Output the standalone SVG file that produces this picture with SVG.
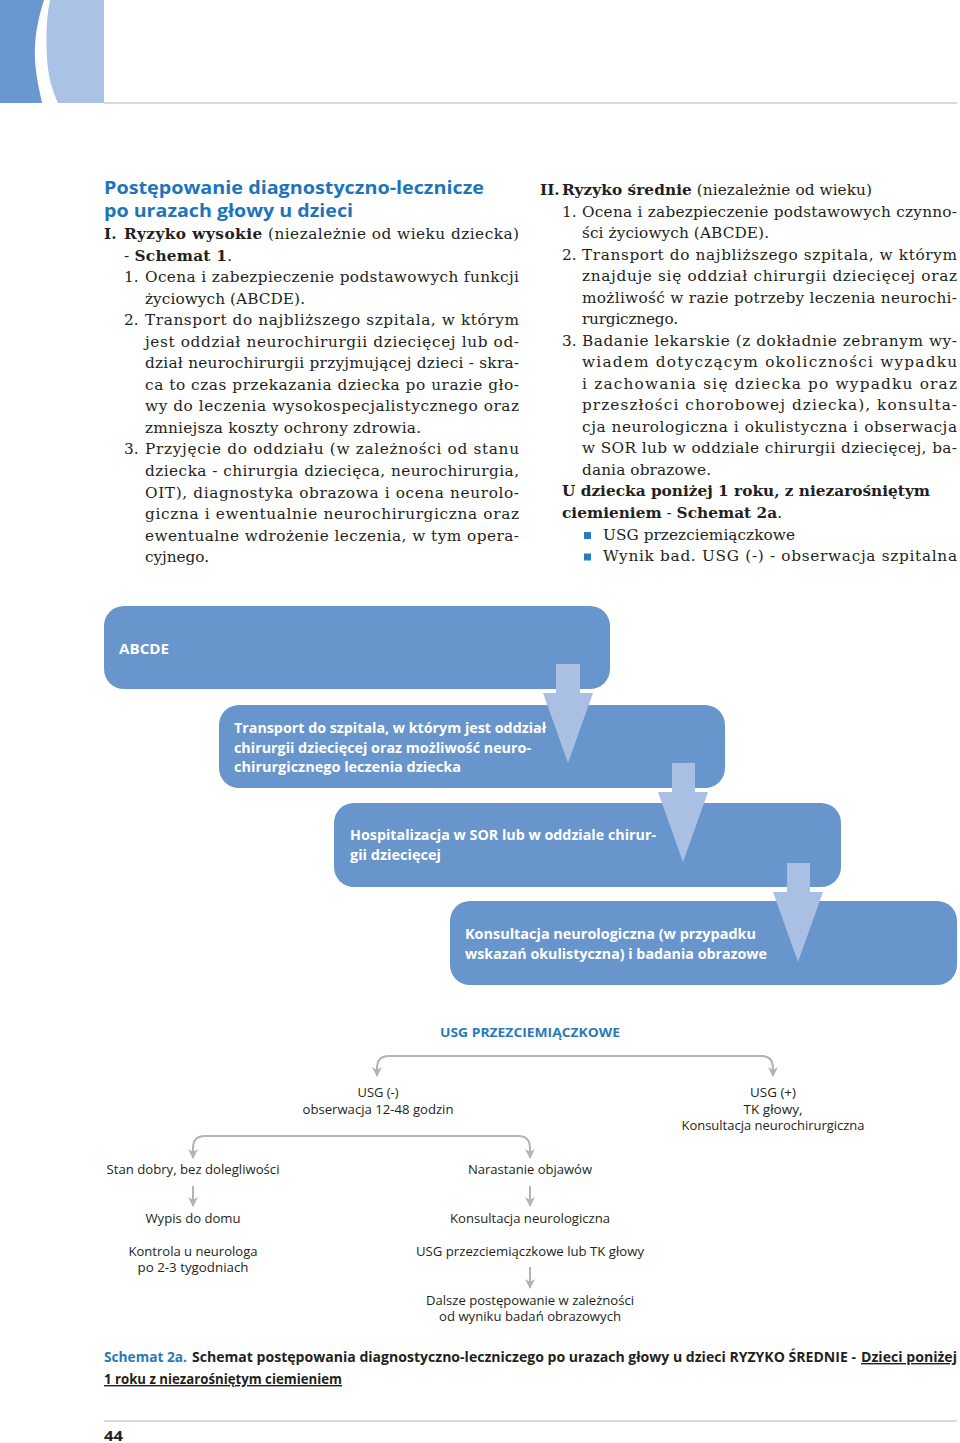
<svg xmlns="http://www.w3.org/2000/svg" width="960" height="1443" viewBox="0 0 960 1443">
<defs>
<style>
.b{font-family:"DejaVu Serif","Liberation Serif",serif;font-size:15.3px;fill:#231f20}
.bb{font-weight:bold}
.t{font-family:"Open Sans","Liberation Sans",sans-serif;font-weight:bold;font-size:18.5px;fill:#1c75bc}
.box{fill:#6895cc}
.bt{font-family:"Open Sans","Liberation Sans",sans-serif;font-weight:bold;font-size:14.5px;fill:#ffffff}
.arr{fill:#a9c0e4}
.tr{font-family:"Open Sans","Liberation Sans",sans-serif;font-size:13px;fill:#231f20;text-anchor:middle}
.trh{font-family:"Open Sans","Liberation Sans",sans-serif;font-size:13px;font-weight:bold;fill:#2a7ab9;text-anchor:middle}
.con{fill:none;stroke:#b3b3b3;stroke-width:2}
.cap{font-family:"Open Sans","Liberation Sans",sans-serif;font-weight:bold;font-size:14px;fill:#231f20}
.rule{stroke:#b5b5b5;stroke-width:1.2}
</style>
<marker id="ad" viewBox="0 0 12 12" refX="10" refY="6" markerWidth="12" markerHeight="12" markerUnits="userSpaceOnUse" orient="auto">
<path d="M1,1 L11,6 L1,11 L4,6 Z" fill="#b3b3b3"/>
</marker>
</defs>
<rect width="960" height="1443" fill="#ffffff"/>

<!-- header decoration -->
<path d="M0,0 H44 C37,22 34,40 35,60 C36,78 40,92 42,103 H0 Z" fill="#6a97cf"/>
<path d="M50,0 H104 V103 H58 C52,90 48,76 47,58 C46,38 46,20 50,0 Z" fill="#aac2e6"/>
<line class="rule" x1="104" y1="103" x2="957" y2="103"/>

<!-- title -->
<text class="t" x="104" y="193.5" textLength="380" lengthAdjust="spacingAndGlyphs">Postępowanie diagnostyczno-lecznicze</text>
<text class="t" x="104" y="216.5" textLength="249" lengthAdjust="spacingAndGlyphs">po urazach głowy u dzieci</text>

<!-- left column -->
<g id="left-column">
<text class="b bb" x="104" y="239">I.</text>
<text class="b" x="124" y="239" textLength="395" lengthAdjust="spacing"><tspan class="bb">Ryzyko wysokie</tspan> (niezależnie od wieku dziecka)</text>
<text class="b" x="124" y="260.5" textLength="108" lengthAdjust="spacing">- <tspan class="bb">Schemat 1</tspan>.</text>
<text class="b" x="124" y="282">1.</text>
<text class="b" x="145" y="282" textLength="374" lengthAdjust="spacing">Ocena i zabezpieczenie podstawowych funkcji</text>
<text class="b" x="145" y="303.6" textLength="160" lengthAdjust="spacing">życiowych (ABCDE).</text>
<text class="b" x="124" y="325">2.</text>
<text class="b" x="145" y="325" textLength="374" lengthAdjust="spacing">Transport do najbliższego szpitala, w którym</text>
<text class="b" x="145" y="346.7" textLength="374" lengthAdjust="spacing">jest oddział neurochirurgii dziecięcej lub od-</text>
<text class="b" x="145" y="368.2" textLength="374" lengthAdjust="spacing">dział neurochirurgii przyjmującej dzieci - skra-</text>
<text class="b" x="145" y="389.8" textLength="374" lengthAdjust="spacing">ca to czas przekazania dziecka po urazie gło-</text>
<text class="b" x="145" y="411.3" textLength="374" lengthAdjust="spacing">wy do leczenia wysokospecjalistycznego oraz</text>
<text class="b" x="145" y="432.8" textLength="276" lengthAdjust="spacing">zmniejsza koszty ochrony zdrowia.</text>
<text class="b" x="124" y="454.4">3.</text>
<text class="b" x="145" y="454.4" textLength="374" lengthAdjust="spacing">Przyjęcie do oddziału (w zależności od stanu</text>
<text class="b" x="145" y="476" textLength="374" lengthAdjust="spacing">dziecka - chirurgia dziecięca, neurochirurgia,</text>
<text class="b" x="145" y="497.5" textLength="374" lengthAdjust="spacing">OIT), diagnostyka obrazowa i ocena neurolo-</text>
<text class="b" x="145" y="519" textLength="374" lengthAdjust="spacing">giczna i ewentualnie neurochirurgiczna oraz</text>
<text class="b" x="145" y="540.5" textLength="374" lengthAdjust="spacing">ewentualne wdrożenie leczenia, w tym opera-</text>
<text class="b" x="145" y="562" textLength="64" lengthAdjust="spacing">cyjnego.</text>
</g>

<!-- right column -->
<g id="right-column">
<text class="b bb" x="540" y="195">II.</text>
<text class="b" x="562" y="195" textLength="310" lengthAdjust="spacing"><tspan class="bb">Ryzyko średnie</tspan> (niezależnie od wieku)</text>
<text class="b" x="562" y="216.5">1.</text>
<text class="b" x="582" y="216.5" textLength="375" lengthAdjust="spacing">Ocena i zabezpieczenie podstawowych czynno-</text>
<text class="b" x="582" y="238" textLength="187" lengthAdjust="spacing">ści życiowych (ABCDE).</text>
<text class="b" x="562" y="259.6">2.</text>
<text class="b" x="582" y="259.6" textLength="375" lengthAdjust="spacing">Transport do najbliższego szpitala, w którym</text>
<text class="b" x="582" y="281.1" textLength="375" lengthAdjust="spacing">znajduje się oddział chirurgii dziecięcej oraz</text>
<text class="b" x="582" y="302.7" textLength="375" lengthAdjust="spacing">możliwość w razie potrzeby leczenia neurochi-</text>
<text class="b" x="582" y="324.2" textLength="96" lengthAdjust="spacing">rurgicznego.</text>
<text class="b" x="562" y="345.7">3.</text>
<text class="b" x="582" y="345.7" textLength="375" lengthAdjust="spacing">Badanie lekarskie (z dokładnie zebranym wy-</text>
<text class="b" x="582" y="367.2" textLength="375" lengthAdjust="spacing">wiadem dotyczącym okoliczności wypadku</text>
<text class="b" x="582" y="388.8" textLength="375" lengthAdjust="spacing">i zachowania się dziecka po wypadku oraz</text>
<text class="b" x="582" y="410.3" textLength="375" lengthAdjust="spacing">przeszłości chorobowej dziecka), konsulta-</text>
<text class="b" x="582" y="431.8" textLength="375" lengthAdjust="spacing">cja neurologiczna i okulistyczna i obserwacja</text>
<text class="b" x="582" y="453.4" textLength="375" lengthAdjust="spacing">w SOR lub w oddziale chirurgii dziecięcej, ba-</text>
<text class="b" x="582" y="474.9" textLength="129" lengthAdjust="spacing">dania obrazowe.</text>
<text class="b bb" x="562" y="496.4" textLength="368" lengthAdjust="spacing">U dziecka poniżej 1 roku, z niezarośniętym</text>
<text class="b" x="562" y="518" textLength="220" lengthAdjust="spacing"><tspan class="bb">ciemieniem</tspan> - <tspan class="bb">Schemat 2a</tspan>.</text>
<rect x="584" y="532" width="7" height="7" fill="#2b7bc0"/>
<text class="b" x="603" y="539.5" textLength="192" lengthAdjust="spacing">USG przezciemiączkowe</text>
<rect x="584" y="553.5" width="7" height="7" fill="#2b7bc0"/>
<text class="b" x="603" y="561" textLength="354" lengthAdjust="spacing">Wynik bad. USG (-) - obserwacja szpitalna</text>
</g>

<!-- flowchart nodes -->
<g id="node-abcde">
<rect class="box" x="104" y="606" width="506" height="83" rx="20"/>
<text class="bt" x="119" y="654" textLength="50" lengthAdjust="spacingAndGlyphs">ABCDE</text>
</g>
<g id="node-transport">
<rect class="box" x="219" y="705" width="506" height="83" rx="20"/>
<text class="bt" x="234" y="733" textLength="312" lengthAdjust="spacingAndGlyphs">Transport do szpitala, w którym jest oddział</text>
<text class="bt" x="234" y="752.5" textLength="297" lengthAdjust="spacingAndGlyphs">chirurgii dziecięcej oraz możliwość neuro-</text>
<text class="bt" x="234" y="772" textLength="227" lengthAdjust="spacingAndGlyphs">chirurgicznego leczenia dziecka</text>
</g>
<g id="node-hospitalizacja">
<rect class="box" x="334" y="803" width="507" height="84" rx="20"/>
<text class="bt" x="350" y="840" textLength="306" lengthAdjust="spacingAndGlyphs">Hospitalizacja w SOR lub w oddziale chirur-</text>
<text class="bt" x="350" y="860" textLength="91" lengthAdjust="spacingAndGlyphs">gii dziecięcej</text>
</g>
<g id="node-konsultacja">
<rect class="box" x="450" y="901" width="507" height="84" rx="20"/>
<text class="bt" x="465" y="939" textLength="291" lengthAdjust="spacingAndGlyphs">Konsultacja neurologiczna (w przypadku</text>
<text class="bt" x="465" y="959" textLength="302" lengthAdjust="spacingAndGlyphs">wskazań okulistyczna) i badania obrazowe</text>
</g>

<!-- tree nodes -->
<g id="node-usg">
<text class="trh" x="530" y="1037" textLength="180" lengthAdjust="spacingAndGlyphs">USG PRZEZCIEMIĄCZKOWE</text>
</g>
<g id="node-usg-neg">
<text class="tr" x="378" y="1097" textLength="41" lengthAdjust="spacingAndGlyphs">USG (-)</text>
<text class="tr" x="378" y="1114" textLength="151" lengthAdjust="spacingAndGlyphs">obserwacja 12-48 godzin</text>
</g>
<g id="node-usg-pos">
<text class="tr" x="773" y="1097" textLength="46" lengthAdjust="spacingAndGlyphs">USG (+)</text>
<text class="tr" x="773" y="1114" textLength="59" lengthAdjust="spacingAndGlyphs">TK głowy,</text>
<text class="tr" x="773" y="1130" textLength="183" lengthAdjust="spacingAndGlyphs">Konsultacja neurochirurgiczna</text>
</g>
<g id="node-stan-dobry">
<text class="tr" x="193" y="1174" textLength="173" lengthAdjust="spacingAndGlyphs">Stan dobry, bez dolegliwości</text>
</g>
<g id="node-narastanie">
<text class="tr" x="530" y="1174" textLength="124" lengthAdjust="spacingAndGlyphs">Narastanie objawów</text>
</g>
<g id="node-wypis">
<text class="tr" x="193" y="1223" textLength="95" lengthAdjust="spacingAndGlyphs">Wypis do domu</text>
</g>
<g id="node-kontrola">
<text class="tr" x="193" y="1256" textLength="129" lengthAdjust="spacingAndGlyphs">Kontrola u neurologa</text>
<text class="tr" x="193" y="1272" textLength="111" lengthAdjust="spacingAndGlyphs">po 2-3 tygodniach</text>
</g>
<g id="node-konsultacja-neuro">
<text class="tr" x="530" y="1223" textLength="160" lengthAdjust="spacingAndGlyphs">Konsultacja neurologiczna</text>
</g>
<g id="node-usg-tk">
<text class="tr" x="530" y="1256" textLength="228" lengthAdjust="spacingAndGlyphs">USG przezciemiączkowe lub TK głowy</text>
</g>
<g id="node-dalsze">
<text class="tr" x="530" y="1305" textLength="208" lengthAdjust="spacingAndGlyphs">Dalsze postępowanie w zależności</text>
<text class="tr" x="530" y="1321" textLength="182" lengthAdjust="spacingAndGlyphs">od wyniku badań obrazowych</text>
</g>

<!-- connectors -->
<g id="connectors">
<path class="arr" d="M556,664 H580 V693 H593 L568,763 L543,693 H556 Z"/>
<path class="arr" d="M672,763 H695 V792 H708 L683,862 L658,792 H672 Z"/>
<path class="arr" d="M787,863 H810 V892 H823 L798,962 L773,892 H787 Z"/>
<path class="con" d="M575,1056 H389 Q377,1056 377,1068 V1076" marker-end="url(#ad)"/>
<path class="con" d="M575,1056 H761 Q773,1056 773,1068 V1076" marker-end="url(#ad)"/>
<path class="con" d="M360,1136 H205 Q193,1136 193,1148 V1158" marker-end="url(#ad)"/>
<path class="con" d="M360,1136 H518 Q530,1136 530,1148 V1158" marker-end="url(#ad)"/>
<path class="con" d="M193,1186 V1206" marker-end="url(#ad)"/>
<path class="con" d="M530,1186 V1206" marker-end="url(#ad)"/>
<path class="con" d="M530,1267 V1288" marker-end="url(#ad)"/>
</g>

<!-- caption -->
<text class="cap" x="104" y="1362" style="fill:#2a7ab9" textLength="83" lengthAdjust="spacingAndGlyphs">Schemat 2a.</text>
<text class="cap" x="192" y="1362" textLength="664" lengthAdjust="spacingAndGlyphs">Schemat postępowania diagnostyczno-leczniczego po urazach głowy u dzieci RYZYKO ŚREDNIE -</text>
<text class="cap" x="861" y="1362" textLength="96" lengthAdjust="spacingAndGlyphs" text-decoration="underline">Dzieci poniżej</text>
<text class="cap" x="104" y="1384" textLength="238" lengthAdjust="spacingAndGlyphs" text-decoration="underline">1 roku z niezarośniętym ciemieniem</text>

<line class="rule" x1="104" y1="1421" x2="957" y2="1421"/>
<text class="cap" x="104" y="1441" font-size="16" textLength="19" lengthAdjust="spacingAndGlyphs">44</text>
</svg>
